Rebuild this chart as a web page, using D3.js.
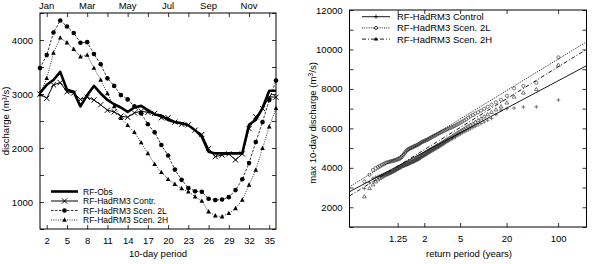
<!DOCTYPE html>
<html><head><meta charset="utf-8">
<script src="https://cdn.jsdelivr.net/npm/d3@7"></script>
<style>
body{margin:0;background:#fff}
svg{display:block}
text{font-family:"Liberation Sans",Arial,Helvetica,sans-serif;font-size:9.5px;fill:#000}
</style></head>
<body><svg id="c" width="592" height="264"></svg>
<script>
// ---------- left panel data ----------
const periods = d3.range(1, 37);
const periodTicks = [2,5,8,11,14,17,20,23,26,29,32,35];
const monthLabels = ["Jan","Mar","May","Jul","Sep","Nov"];
const monthPeriods = [2,8,14,20,26,32];
const obs = [3020,3170,3260,3410,3080,3040,2770,2980,3150,3010,2890,2810,2750,2670,2750,2780,2700,2620,2600,2520,2480,2460,2420,2330,2210,1930,1900,1900,1900,1900,1900,2430,2520,2740,3060,3060];
const contr = [3000,2920,3170,3210,3040,3020,2900,2940,2890,2800,2700,2670,2590,2570,2650,2680,2660,2640,2560,2560,2480,2440,2430,2330,2250,1990,1840,1870,1890,1780,1890,2360,2580,2730,2950,2940];
const scen2L = [3480,3720,4140,4360,4250,4130,3950,3960,3740,3550,3290,3150,2980,2900,2770,2640,2440,2290,2055,1860,1600,1410,1260,1200,1190,1060,1035,1045,1090,1220,1420,1720,2110,2480,2890,3250];
const scen2H = [2990,3290,3760,4040,3950,3830,3690,3720,3480,3260,3010,2770,2550,2420,2290,2100,1900,1700,1550,1420,1330,1250,1190,1098,1018,820,746,728,790,880,1037,1315,1592,1994,2394,2735];
const leftYTicks = [1000,2000,3000,4000];

// ---------- right panel data (annual max 10-day discharge, ascending) ----------
const maxControl = [2950,3250,3470,3520,3560,3590,3620,3650,3670,3690,3705,3720,3740,3770,3800,3830,3860,3890,3920,3950,3975,4000,4025,4050,4070,4090,4105,4120,4135,4150,4170,4190,4210,4230,4250,4270,4290,4310,4330,4350,4370,4390,4410,4430,4460,4490,4520,4550,4580,4600,4630,4660,4690,4720,4750,4780,4810,4840,4870,4900,4930,4960,4990,5020,5050,5080,5120,5160,5200,5240,5280,5320,5360,5400,5440,5480,5520,5570,5620,5670,5720,5770,5820,5870,5920,5980,6040,6100,6170,6240,6320,6410,6500,6700,6930,7000,7030,7080,7090,7440];
const max2L = [3300,3650,3890,3980,4050,4100,4150,4190,4230,4260,4280,4300,4315,4330,4345,4360,4375,4390,4405,4420,4440,4460,4490,4530,4580,4640,4700,4760,4820,4870,4910,4940,4965,4990,5010,5030,5050,5070,5090,5110,5130,5150,5170,5190,5220,5250,5280,5310,5330,5350,5370,5390,5410,5430,5460,5490,5510,5540,5570,5600,5630,5650,5680,5710,5740,5770,5800,5830,5860,5890,5920,5950,5980,6010,6040,6070,6110,6150,6190,6240,6290,6340,6400,6460,6540,6610,6680,6750,6820,6900,6990,7090,7200,7320,7450,7650,8030,8150,8310,9600];
const max2H = [2540,2960,3150,3300,3400,3470,3530,3580,3620,3660,3690,3720,3750,3780,3810,3840,3870,3900,3930,3960,3990,4020,4050,4080,4100,4120,4140,4160,4180,4200,4220,4240,4260,4280,4300,4320,4340,4360,4380,4410,4440,4470,4500,4530,4560,4590,4620,4650,4680,4710,4740,4770,4800,4830,4860,4890,4920,4950,4980,5010,5040,5070,5100,5130,5160,5190,5230,5270,5310,5350,5390,5430,5470,5510,5550,5600,5650,5700,5750,5800,5860,5920,5980,6040,6100,6170,6240,6320,6400,6490,6590,6700,6820,6950,7100,7300,7600,7805,7980,9210];
// fitted Gumbel lines: discharge at the left and right ends of the reduced-variate axis
const fitControl = [2789, 9175];
const fit2L = [3042, 10390];
const fit2H = [2571, 10006];
const returnPeriodTicks = [1.25, 2, 5, 20, 100];
const rightYTicks = [2000,4000,6000,8000,10000,12000];

// ---------- drawing ----------
const svg = d3.select("#c");
const gumbel = T => -Math.log(-Math.log(1 - 1 / T));

// ===== LEFT PANEL =====
const L = {l:40, r:276, t:13, b:229};
const x = d3.scaleLinear().domain([1, 36]).range([L.l, L.r]);
const y = d3.scaleLinear().domain([500, 4500]).range([L.b, L.t]);
const gl = svg.append("g");
const tk = 4;
gl.append("g").attr("transform",`translate(0,${L.b})`)
  .call(d3.axisBottom(x).tickValues(periodTicks).tickSizeInner(-tk).tickSizeOuter(0).tickPadding(8));
gl.append("g").attr("transform",`translate(0,${L.t})`)
  .call(d3.axisTop(x).tickValues(periodTicks).tickSizeInner(-tk).tickSizeOuter(0).tickFormat(""));
gl.append("g").attr("transform",`translate(${L.l},0)`)
  .call(d3.axisLeft(y).tickValues(d3.range(500, 4501, 500)).tickSizeInner(-tk).tickSizeOuter(0).tickPadding(7)
    .tickFormat(d => leftYTicks.includes(d) ? d : ""));
gl.append("g").attr("transform",`translate(${L.r},0)`)
  .call(d3.axisRight(y).tickValues(d3.range(500, 4501, 500)).tickSizeInner(-tk).tickSizeOuter(0).tickFormat(""));
gl.selectAll(".domain").remove();
gl.selectAll(".tick line").attr("stroke","#000").attr("stroke-width",0.8);
gl.selectAll(".tick text").style("font-size","9.5px");
gl.append("rect").attr("x",L.l).attr("y",L.t).attr("width",L.r-L.l).attr("height",L.b-L.t)
  .attr("fill","none").attr("stroke","#000").attr("stroke-width",1);
gl.selectAll(".mon").data(monthLabels).join("text")
  .attr("x",(d,i)=>x(monthPeriods[i])).attr("y",8.5).attr("text-anchor","middle").text(d=>d);
gl.append("text").attr("transform",`translate(9,121) rotate(-90)`).attr("text-anchor","middle").text("discharge (m³/s)");
gl.append("text").attr("x",158).attr("y",257).attr("text-anchor","middle").text("10-day period");

const line = d3.line().x((d,i)=>x(periods[i])).y(d=>y(d));
const series = [
  {name:"RF-Obs", data:obs, w:2.6, dash:null, mark:null},
  {name:"RF-HadRM3 Contr.", data:contr, w:1, dash:null, mark:"x"},
  {name:"RF-HadRM3 Scen. 2L", data:scen2L, w:0.8, dash:"2.5,1.5", mark:"circle"},
  {name:"RF-HadRM3 Scen. 2H", data:scen2H, w:0.8, dash:"1,1.3", mark:"tri"}
];
function marker(g, type, cx, cy, s){
  if(type==="x"){
    g.append("path").attr("d",`M${cx-s},${cy-s}L${cx+s},${cy+s}M${cx-s},${cy+s}L${cx+s},${cy-s}`)
      .attr("stroke","#000").attr("stroke-width",1).attr("fill","none");
  } else if(type==="circle"){
    g.append("circle").attr("cx",cx).attr("cy",cy).attr("r",s).attr("fill","#000");
  } else if(type==="tri"){
    g.append("path").attr("d",`M${cx},${cy-s*1.15}L${cx+s},${cy+s*0.75}L${cx-s},${cy+s*0.75}Z`).attr("fill","#000");
  }
}
const plotL = gl.append("g");
series.slice().reverse().forEach(s=>{
  plotL.append("path").attr("d",line(s.data)).attr("fill","none").attr("stroke","#000")
    .attr("stroke-width",s.w).attr("stroke-dasharray",s.dash).attr("stroke-linejoin","round");
  if(s.mark){
    s.data.forEach((v,i)=>marker(plotL, s.mark, x(periods[i]), y(v), s.mark==="x"?2.6:2.3));
  }
});
series.forEach((s,i)=>{
  const yy = 191.5 + i*9.5;
  gl.append("line").attr("x1",51).attr("x2",78).attr("y1",yy).attr("y2",yy)
    .attr("stroke","#000").attr("stroke-width",s.w).attr("stroke-dasharray",s.dash);
  if(s.mark) marker(gl, s.mark, 64.5, yy, s.mark==="x"?2.6:2.3);
  gl.append("text").attr("x",83).attr("y",yy+3.1).style("font-size","8.5px").text(s.name);
});

// ===== RIGHT PANEL =====
const R = {l:349.5, r:586.5, t:10, b:227};
const xr = d3.scaleLinear().domain([-2, 5.5]).range([R.l, R.r]);
const yr = d3.scaleLinear().domain([1000, 12000]).range([R.b, R.t]);
const gr = svg.append("g");
gr.append("g").attr("transform",`translate(0,${R.b})`)
  .call(d3.axisBottom(xr).tickValues(returnPeriodTicks.map(gumbel)).tickSizeInner(-tk).tickSizeOuter(0).tickPadding(8)
    .tickFormat((d,i)=>returnPeriodTicks[i]));
gr.append("g").attr("transform",`translate(0,${R.t})`)
  .call(d3.axisTop(xr).tickValues(returnPeriodTicks.map(gumbel)).tickSizeInner(-tk).tickSizeOuter(0).tickFormat(""));
gr.append("g").attr("transform",`translate(${R.l},0)`)
  .call(d3.axisLeft(yr).tickValues(d3.range(1000, 12001, 1000)).tickSizeInner(-tk).tickSizeOuter(0).tickPadding(7)
    .tickFormat(d => rightYTicks.includes(d) ? d : ""));
gr.append("g").attr("transform",`translate(${R.r},0)`)
  .call(d3.axisRight(yr).tickValues(d3.range(1000, 12001, 1000)).tickSizeInner(-tk).tickSizeOuter(0).tickFormat(""));
gr.selectAll(".domain").remove();
gr.selectAll(".tick line").attr("stroke","#000").attr("stroke-width",0.8);
gr.selectAll(".tick text").style("font-size","9.5px");
gr.append("rect").attr("x",R.l).attr("y",R.t).attr("width",R.r-R.l).attr("height",R.b-R.t)
  .attr("fill","none").attr("stroke","#000").attr("stroke-width",1);
gr.append("text").attr("transform",`translate(316,123) rotate(-90)`).attr("text-anchor","middle")
  .html('max 10-day discharge (m<tspan dy="-3" font-size="7px">3</tspan><tspan dy="3">/s)</tspan>');
gr.append("text").attr("x",469).attr("y",257).attr("text-anchor","middle").text("return period (years)");

const plotR = gr.append("g");
function rmark(type, cx, cy, stroke){
  const s = 1.9;
  if(type==="plus") plotR.append("path").attr("d",`M${cx-s},${cy}L${cx+s},${cy}M${cx},${cy-s}L${cx},${cy+s}`)
    .attr("stroke",stroke).attr("stroke-width",0.7).attr("fill","none");
  else if(type==="o") plotR.append("circle").attr("cx",cx).attr("cy",cy).attr("r",1.6)
    .attr("stroke",stroke).attr("stroke-width",0.7).attr("fill","none");
  else plotR.append("path").attr("d",`M${cx},${cy-2}L${cx+1.9},${cy+1.3}L${cx-1.9},${cy+1.3}Z`)
    .attr("stroke",stroke).attr("stroke-width",0.7).attr("fill","none");
}
const rseries = [
  {name:"RF-HadRM3 Control", data:maxControl, fit:fitControl, dash:null, mark:"plus"},
  {name:"RF-HadRM3 Scen. 2L", data:max2L, fit:fit2L, dash:"1,1.2", mark:"o"},
  {name:"RF-HadRM3 Scen. 2H", data:max2H, fit:fit2H, dash:"4,2,1,2", mark:"tri"}
];
rseries.forEach(s=>{
  const n = s.data.length;
  s.data.forEach((v,i)=>{
    const F = (i+1)/(n+1);            // Weibull plotting position
    const T = 1/(1-F);
    rmark(s.mark, xr(gumbel(T)), yr(v), "#444");
  });
});
rseries.forEach(s=>{
  plotR.append("line").attr("x1",xr(-2)).attr("x2",xr(5.5)).attr("y1",yr(s.fit[0])).attr("y2",yr(s.fit[1]))
    .attr("stroke","#000").attr("stroke-width",0.9).attr("stroke-dasharray",s.dash);
});
rseries.forEach((s,i)=>{
  const yy = 16.7 + i*11.2;
  gr.append("line").attr("x1",362).attr("x2",390).attr("y1",yy).attr("y2",yy)
    .attr("stroke","#000").attr("stroke-width",0.9).attr("stroke-dasharray",s.dash);
  const cx = 376;
  if(s.mark==="plus") gr.append("path").attr("d",`M${cx-2},${yy}L${cx+2},${yy}M${cx},${yy-2}L${cx},${yy+2}`).attr("stroke","#000").attr("stroke-width",0.8);
  else if(s.mark==="o") gr.append("circle").attr("cx",cx).attr("cy",yy).attr("r",1.5).attr("fill","#fff").attr("stroke","#000").attr("stroke-width",0.8);
  else gr.append("path").attr("d",`M${cx},${yy-2.2}L${cx+2.2},${yy+1.4}L${cx-2.2},${yy+1.4}Z`).attr("fill","#000");
  gr.append("text").attr("x",397).attr("y",yy+3.4).text(s.name);
});
</script></body></html>
